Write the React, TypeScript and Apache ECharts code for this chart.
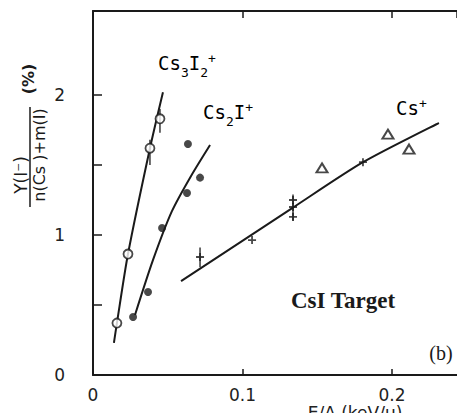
import React, { useEffect, useRef } from "react";
import * as echarts from "echarts";

// Cs3I2+ open circles
const cs3i2X = [0.016, 0.0234, 0.0381, 0.0448];
const cs3i2Y = [0.371, 0.864, 1.62, 1.83];
// Cs3I2+ fitted curve
const cs3i2FitX = [0.014, 0.016, 0.0234, 0.0381, 0.0468];
const cs3i2FitY = [0.229, 0.371, 0.864, 1.62, 2.02];

// Cs2I+ filled circles
const cs2iX = [0.0268, 0.0368, 0.0462, 0.0629, 0.0716, 0.0635];
const cs2iY = [0.414, 0.593, 1.05, 1.3, 1.41, 1.65];
// Cs2I+ fitted curve
const cs2iFitX = [0.0281, 0.0401, 0.0528, 0.0655, 0.0783];
const cs2iFitY = [0.429, 0.82, 1.17, 1.42, 1.643];

// Cs+ triangles
const csTriX = [0.1532, 0.1973, 0.2114];
const csTriY = [1.479, 1.72, 1.614];
// Cs+ crosses
const csCrossX = [0.0716, 0.1064, 0.1338, 0.1338, 0.1338, 0.1806];
const csCrossY = [0.843, 0.964, 1.13, 1.2, 1.25, 1.52];
// Cs+ fitted curve
const csFitX = [0.0589, 0.133, 0.1806, 0.2314];
const csFitY = [0.671, 1.19, 1.52, 1.8];

// error bars [x, low, high]
const errX = [0.0381, 0.0448, 0.0716, 0.1338];
const errLow = [1.5, 1.73, 0.77, 1.1];
const errHigh = [1.68, 1.9, 0.91, 1.29];

const xTicks = [0, 0.1, 0.2];
const yTickValues = [0.5, 1, 1.5, 2];
const yLabelValues = [0, 1, 2];

const zip = (a: number[], b: number[]) => a.map((v, i) => [v, b[i]]);

export default function App() {
  const ref = useRef<HTMLDivElement>(null);
  useEffect(() => {
    if (!ref.current) return;
    const chart = echarts.init(ref.current, undefined, { renderer: "svg" });
    const black = "#1a1a1a";
    const lineSeries = (xs: number[], ys: number[]) => ({
      type: "line",
      data: zip(xs, ys),
      smooth: 0.25,
      symbol: "none",
      lineStyle: { color: black, width: 2 },
      silent: true,
      z: 2,
    });
    const sub = { fontFamily: "DejaVu Sans Mono", fontSize: 13, color: black, verticalAlign: "bottom", padding: [0, 0, -5, 0] };
    const sup = { fontFamily: "DejaVu Sans Mono", fontSize: 13, color: black, verticalAlign: "top", padding: [0, 0, 9, 0] };
    const main = { fontFamily: "DejaVu Sans Mono", fontSize: 19, color: black };
    chart.setOption({
      animation: false,
      backgroundColor: "#fff",
      grid: { left: 93, top: 11, right: 0, bottom: 38 },
      xAxis: [
        {
          type: "value",
          min: 0,
          max: 0.2435,
          interval: 0.1,
          axisLine: { show: true, lineStyle: { color: black, width: 2 } },
          axisTick: { show: true, inside: true, length: 6, lineStyle: { color: black, width: 1.5 } },
          axisLabel: {
            showMaxLabel: false,
            margin: 11,
            fontSize: 17,
            fontFamily: "DejaVu Sans",
            color: "#222",
            formatter: (v: number) => (xTicks.some((t) => Math.abs(t - v) < 1e-9) ? (v === 0 ? "0" : String(Math.round(v * 10) / 10)) : ""),
          },
          splitLine: { show: false },
        },
        {
          type: "value",
          position: "top",
          min: 0,
          max: 0.2435,
          interval: 0.1,
          axisLine: { show: true, lineStyle: { color: black, width: 2 } },
          axisTick: { show: true, inside: true, length: 7, lineStyle: { color: black, width: 1.5 } },
          axisLabel: { show: false },
          splitLine: { show: false },
        },
      ],
      yAxis: {
        type: "value",
        min: 0,
        max: 2.6,
        interval: 0.5,
        axisLine: { show: true, lineStyle: { color: black, width: 2 } },
        axisTick: { show: true, inside: true, length: 9, customValues: yTickValues, lineStyle: { color: black, width: 1.5 } },
        axisLabel: {
          customValues: yLabelValues,
          margin: 28,
          fontSize: 17,
          fontFamily: "DejaVu Sans",
          color: "#222",
          formatter: (v: number) => String(v),
        },
        splitLine: { show: false },
      },
      series: [
        lineSeries(cs3i2FitX, cs3i2FitY),
        lineSeries(cs2iFitX, cs2iFitY),
        lineSeries(csFitX, csFitY),
        {
          type: "custom",
          silent: true,
          z: 3,
          data: errX.map((x, i) => [x, errLow[i], errHigh[i]]),
          renderItem: (params: any, api: any) => {
            const p1 = api.coord([api.value(0), api.value(1)]);
            const p2 = api.coord([api.value(0), api.value(2)]);
            return {
              type: "line",
              shape: { x1: p1[0], y1: p1[1], x2: p2[0], y2: p2[1] },
              style: { stroke: black, lineWidth: 1.3 },
            };
          },
        },
        {
          type: "scatter",
          data: zip(cs3i2X, cs3i2Y),
          symbol: "circle",
          symbolSize: 9,
          itemStyle: { color: "#fff", borderColor: black, borderWidth: 1.8 },
          z: 5,
        },
        {
          type: "scatter",
          data: zip(cs2iX, cs2iY),
          symbol: "circle",
          symbolSize: 8,
          itemStyle: { color: black },
          z: 5,
        },
        {
          type: "scatter",
          data: zip(csTriX, csTriY),
          symbol: "triangle",
          symbolSize: [11, 9],
          itemStyle: { color: "#fff", borderColor: black, borderWidth: 2 },
          z: 5,
        },
        {
          type: "scatter",
          data: zip(csCrossX, csCrossY),
          symbol: "path://M5,0L5,10M0,5L10,5",
          symbolSize: 8,
          itemStyle: { color: "none", borderColor: black, borderWidth: 1.8 },
          z: 5,
        },
      ],
      graphic: [
        {
          type: "text",
          x: 158,
          y: 52,
          style: {
            text: "{m|Cs}{s|3}{m|I}{s|2}{p|+}",
            rich: { m: main, s: sub, p: sup },
          },
        },
        {
          type: "text",
          x: 203,
          y: 101,
          style: {
            text: "{m|Cs}{s|2}{m|I}{p|+}",
            rich: { m: main, s: sub, p: sup },
          },
        },
        {
          type: "text",
          x: 396,
          y: 97,
          style: {
            text: "{m|Cs}{p|+}",
            rich: { m: main, s: sub, p: sup },
          },
        },
        {
          type: "text",
          x: 343,
          y: 300,
          style: {
            text: "CsI Target",
            font: "bold 23px 'Liberation Serif'",
            fill: black,
            align: "center",
            verticalAlign: "middle",
          },
        },
        {
          type: "text",
          x: 441,
          y: 353,
          style: {
            text: "(b)",
            font: "20px 'Liberation Serif'",
            fill: black,
            align: "center",
            verticalAlign: "middle",
          },
        },
        {
          type: "text",
          x: 355,
          y: 404,
          style: {
            text: "E/A (keV/u)",
            font: "17px 'DejaVu Sans'",
            fill: "#222",
            align: "center",
            verticalAlign: "top",
          },
        },
        {
          type: "group",
          x: 30,
          y: 155,
          rotation: Math.PI / 2,
          children: [
            {
              type: "text",
              x: -20,
              y: -9,
              style: {
                text: "Y(I⁻)",
                font: "17px 'DejaVu Sans'",
                fill: black,
                align: "center",
                verticalAlign: "middle",
              },
            },
            {
              type: "line",
              shape: { x1: -52, y1: 0, x2: 48, y2: 0 },
              style: { stroke: black, lineWidth: 1.5 },
            },
            {
              type: "text",
              x: 0,
              y: 9,
              style: {
                text: "n(Cs )+m(I)",
                font: "16px 'DejaVu Sans'",
                fill: black,
                align: "center",
                verticalAlign: "middle",
              },
            },
            {
              type: "text",
              x: 76,
              y: -2,
              style: {
                text: "(%)",
                font: "bold 16px 'DejaVu Sans'",
                fill: black,
                align: "center",
                verticalAlign: "middle",
              },
            },
          ],
        },
      ],
    });
    return () => chart.dispose();
  }, []);
  return (
    <div
      ref={ref}
      style={{ position: "fixed", left: 0, top: 0, width: 457, height: 413, background: "#fff" }}
    />
  );
}
